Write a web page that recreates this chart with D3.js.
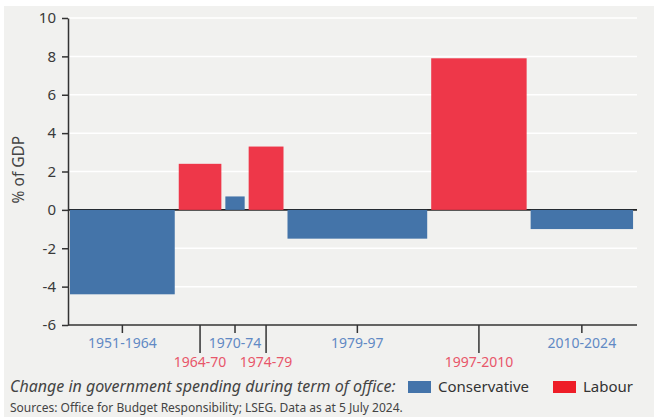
<!DOCTYPE html>
<html>
<head>
<meta charset="utf-8">
<script src="https://cdn.jsdelivr.net/npm/d3@7"></script>
<style>
  html, body { margin: 0; padding: 0; background: #ffffff; }
  svg { display: block; }
  text { font-family: "Noto Sans", "Open Sans", sans-serif; }
</style>
</head>
<body>
<svg id="chart" width="654" height="417"></svg>
<script>
// Terms of office and the change in government spending (% of GDP)
const terms = ["1951-1964", "1964-70", "1970-74", "1974-79", "1979-97", "1997-2010", "2010-2024"];
const parties = ["Conservative", "Labour", "Conservative", "Labour", "Conservative", "Labour", "Conservative"];
const termStart = [1951.0, 1965.0, 1971.0, 1974.0, 1979.0, 1997.5, 2010.3];
const termEnd = [1965.0, 1971.0, 1974.0, 1979.0, 1997.5, 2010.3, 2024.0];
const spendingChange = [-4.4, 2.4, 0.7, 3.3, -1.5, 7.9, -1.0];
const yTicks = [-6, -4, -2, 0, 2, 4, 6, 8, 10];
const partyNames = ["Conservative", "Labour"];

const barColour = { Conservative: "#4474a9", Labour: "#ee3749" };
const labelColour = { Conservative: "#6189c4", Labour: "#e8566a" };
const legendColour = { Conservative: "#4474aa", Labour: "#ee1d27" };

const data = terms.map((t, i) => ({
  term: t, party: parties[i], start: termStart[i], end: termEnd[i], value: spendingChange[i]
}));

const svg = d3.select("#chart");

// panel background
svg.append("rect").attr("x", 4).attr("y", 6).attr("width", 650).attr("height", 411).attr("fill", "#f1f1ef");

const x = d3.scaleLinear().domain([1951, 2024.25]).range([68, 637]);
const y = d3.scaleLinear().domain([-6, 10]).range([325, 18]);

// horizontal gridlines
svg.append("g").selectAll("line").data(yTicks.filter(v => v !== -6)).join("line")
  .attr("x1", x.range()[0]).attr("x2", x.range()[1])
  .attr("y1", d => y(d)).attr("y2", d => y(d))
  .attr("stroke", "#ffffff").attr("stroke-width", 1.5);

// zero line
svg.append("line")
  .attr("x1", x.range()[0]).attr("x2", x.range()[1])
  .attr("y1", y(0)).attr("y2", y(0))
  .attr("stroke", "#222222").attr("stroke-width", 1.6);

// bars, width proportional to length of term
const pad = 2;
svg.append("g").selectAll("rect").data(data).join("rect")
  .attr("x", d => x(d.start) + pad)
  .attr("width", d => x(d.end) - x(d.start) - 2 * pad)
  .attr("y", d => y(Math.max(0, d.value)))
  .attr("height", d => Math.abs(y(d.value) - y(0)))
  .attr("fill", d => barColour[d.party]);

// y axis (plain hyphen for negative numbers)
const yAxis = svg.append("g").attr("transform", `translate(${x.range()[0]},0)`)
  .call(d3.axisLeft(y).tickValues(yTicks).tickFormat(d => String(d))
    .tickSize(6).tickPadding(6).tickSizeOuter(0));
yAxis.select(".domain").attr("stroke", "#333333").attr("stroke-width", 1.5);
yAxis.selectAll(".tick line").attr("stroke", "#333333").attr("stroke-width", 1.5);
yAxis.selectAll(".tick text").attr("font-size", 15).attr("fill", "#3a3a3a")
  .attr("font-family", "'Noto Sans', sans-serif");

// y axis title
svg.append("text")
  .attr("transform", `translate(24,${y(2.1)}) rotate(-90)`)
  .attr("text-anchor", "middle")
  .attr("font-size", 15.5).attr("fill", "#444444")
  .text("% of GDP");

// x axis: baseline with a tick at the middle of each term
const xAxisY = y(-6);
svg.append("line")
  .attr("x1", x.range()[0]).attr("x2", x.range()[1])
  .attr("y1", xAxisY).attr("y2", xAxisY)
  .attr("stroke", "#333333").attr("stroke-width", 1.5);

const ticks = svg.append("g").selectAll("g").data(data).join("g")
  .attr("transform", d => `translate(${(x(d.start) + x(d.end)) / 2},${xAxisY})`);
ticks.append("line")
  .attr("y1", 0).attr("y2", d => d.party === "Labour" ? 28 : 8)
  .attr("stroke", "#333333").attr("stroke-width", 1.5);
ticks.append("text")
  .attr("y", d => d.party === "Labour" ? 42 : 23)
  .attr("text-anchor", "middle")
  .attr("font-size", 14)
  .attr("fill", d => labelColour[d.party])
  .text(d => d.term);

// legend row
const legendY = 387;
svg.append("text")
  .attr("x", 10).attr("y", legendY + 5)
  .attr("font-size", 16).attr("font-style", "italic").attr("fill", "#444444")
  .text("Change in government spending during term of office:");

const legendX = [408, 553];
const legend = svg.append("g").selectAll("g").data(partyNames).join("g")
  .attr("transform", (d, i) => `translate(${legendX[i]},${legendY})`);
legend.append("rect")
  .attr("x", 0).attr("y", -6).attr("width", 23).attr("height", 12)
  .attr("fill", d => legendColour[d]);
legend.append("text")
  .attr("x", 30).attr("y", 5)
  .attr("font-size", 15).attr("fill", "#333333")
  .text(d => d);

// source note
svg.append("text")
  .attr("x", 10).attr("y", 412)
  .attr("font-size", 12).attr("fill", "#444444")
  .text("Sources: Office for Budget Responsibility; LSEG. Data as at 5 July 2024.");
</script>
</body>
</html>
